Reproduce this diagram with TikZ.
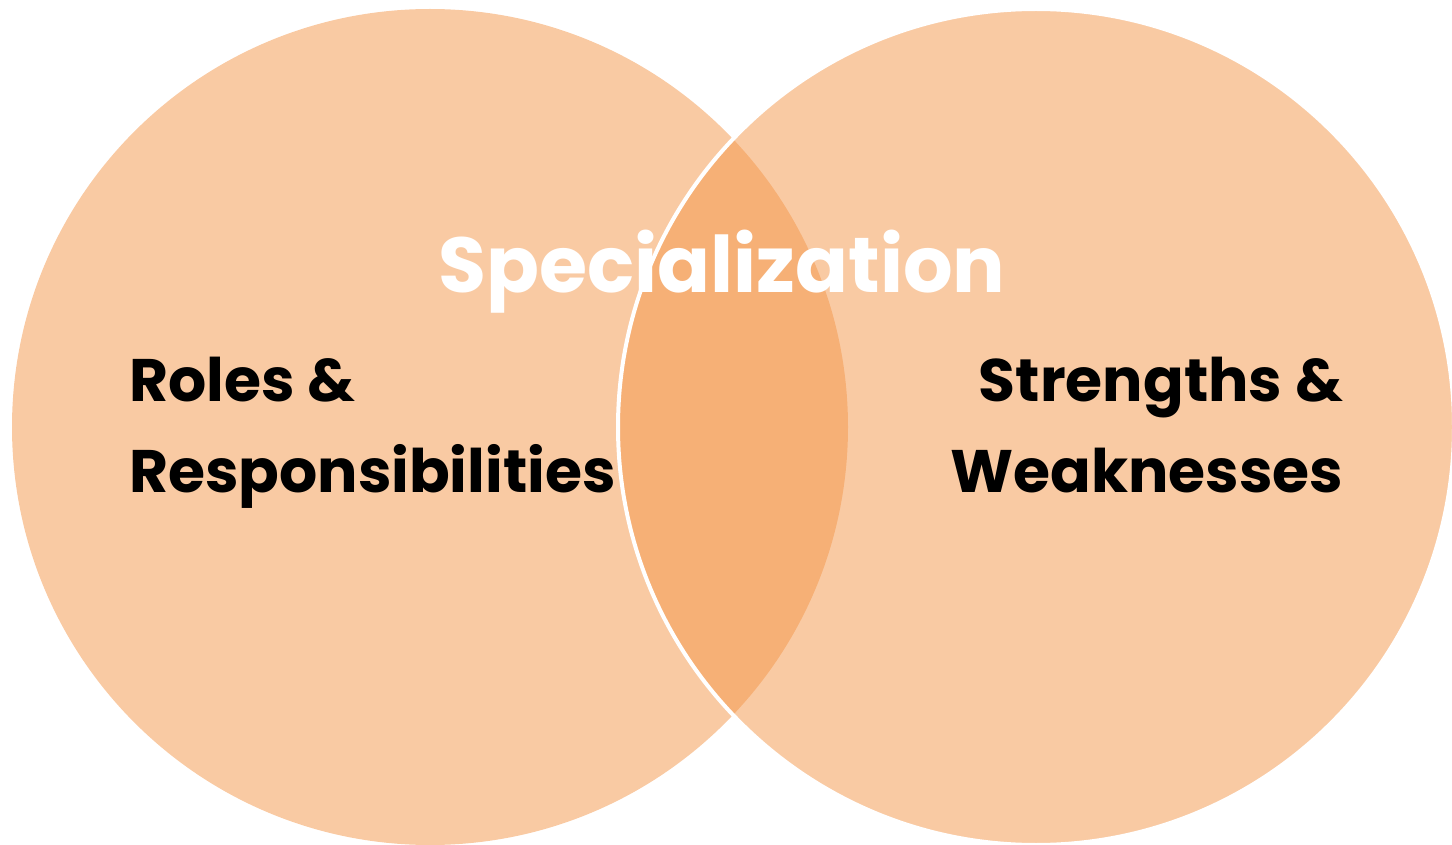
\documentclass[tikz,border=0pt]{standalone}
\usepackage{fontspec}
\setmainfont{Poppins}
\definecolor{venn}{HTML}{F3974B}
\begin{document}
\begin{tikzpicture}[x=0.5pt, y=-0.5pt,
   set/.style={circle, inner sep=0pt, minimum size=418pt, fill=venn, fill opacity=0.51},
   title/.style={text=white, font=\bfseries\fontsize{39}{39}\selectfont},
   caption/.style={text=black, font=\bfseries\fontsize{30}{45.5}\selectfont}]

\useasboundingbox (0,0) rectangle (1452,845);

\node[set] (roles) at (430,427) {};
\node[set, draw=white, line width=2pt] (strengths) at (1036,427) {};

\node[title, anchor=base] (spec) at (722,293) {Specialization};
\node[caption, anchor=base west, align=left] (rolestext) at (122,492) {Roles \&\\Responsibilities};
\node[caption, anchor=base east, align=right] (strengthtext) at (1350,492) {Strengths \&\\Weaknesses};

\end{tikzpicture}
\end{document}
